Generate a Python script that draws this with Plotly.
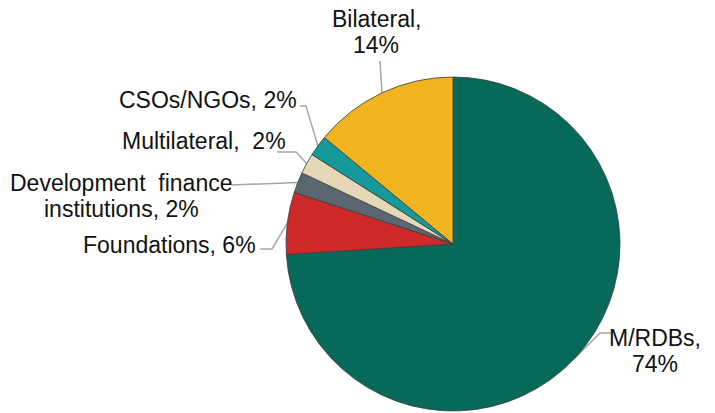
import math
import plotly.graph_objects as go

# Funding shares by provider type (percent), clockwise from 12 o'clock
providers = ["M/RDBs", "Foundations", "Development finance institutions",
             "Multilateral", "CSOs/NGOs", "Bilateral"]
shares = [74, 6, 2, 2, 2, 14]
colors = ["#07695A", "#D0292A", "#5A6670", "#E5D8B9", "#16999A", "#F0B41E"]
label_text = [["M/RDBs,", "74%"], ["Foundations, 6%"], ["Development  finance", "institutions, 2%"],
              ["Multilateral,  2%"], ["CSOs/NGOs, 2%"], ["Bilateral,", "14%"]]

W, H = 715, 413
CX, CY, R = 453, 244, 167  # pie centre and radius in pixels
LINE_GAP = 26              # px between label lines

# label placement: (x, y of first line, xanchor, elbow points in px)
label_layout = {
    "M/RDBs": (655, 338, "center", [(611, 333), (600, 333)]),
    "Foundations": (258, 245, "right", [(260, 249), (272, 249)]),
    "Development finance institutions": (121, 183, "center", [(232, 185)]),
    "Multilateral": (288, 141, "right", [(277, 152), (296, 152)]),
    "CSOs/NGOs": (299, 100, "right", [(300, 106), (306, 106)]),
    "Bilateral": (376, 19, "center", [(380, 61)]),
}

FONT = "Liberation Sans, Arial, sans-serif"

fig = go.Figure()

# leader lines drawn on a pixel-space overlay axis
cum = 0.0
total = sum(shares)
for name, val in zip(providers, shares):
    mid = (cum + val / 2) / total * 2 * math.pi
    cum += val
    ex = CX + R * math.sin(mid)
    ey = CY - R * math.cos(mid)
    pts = label_layout[name][3] + [(ex, ey)]
    fig.add_trace(go.Scatter(
        x=[p[0] for p in pts], y=[p[1] for p in pts], mode="lines",
        line=dict(color="#A6A6A6", width=1.5), hoverinfo="skip", showlegend=False,
    ))

fig.add_trace(go.Pie(
    labels=providers, values=shares, sort=False, direction="clockwise", rotation=0,
    marker=dict(colors=colors, line=dict(color="#3A3A3A", width=0.8)),
    textinfo="none", hoverinfo="label+percent", showlegend=False,
    domain=dict(x=[(CX - R) / W, (CX + R) / W], y=[(H - CY - R) / H, (H - CY + R) / H]),
))

for name, lines in zip(providers, label_text):
    x, y, xa, _ = label_layout[name]
    for i, line in enumerate(lines):
        fig.add_annotation(
            x=x, y=y + i * LINE_GAP, xref="x", yref="y", text=line, showarrow=False,
            xanchor=xa, yanchor="middle", align="center",
            font=dict(family=FONT, size=23, color="#111111"),
        )

fig.update_xaxes(range=[0, W], visible=False, domain=[0, 1], fixedrange=True)
fig.update_yaxes(range=[H, 0], visible=False, domain=[0, 1], fixedrange=True)
fig.update_layout(
    width=W, height=H, margin=dict(l=0, r=0, t=0, b=0),
    paper_bgcolor="white", plot_bgcolor="white",
    font=dict(family=FONT),
)

fig.write_html("out.html")
